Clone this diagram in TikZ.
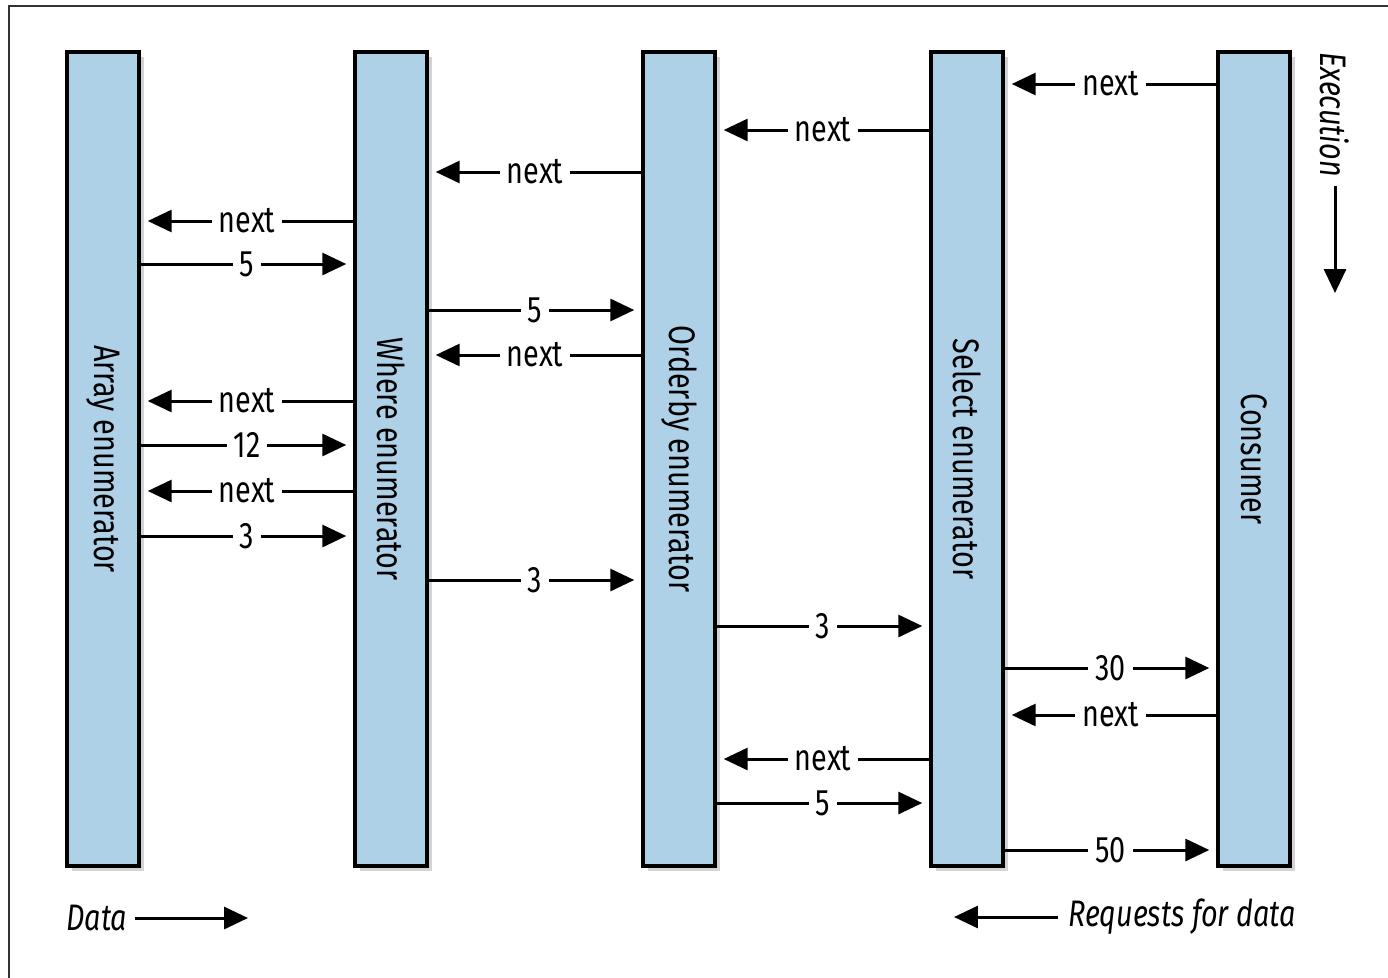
\documentclass[tikz,border=0pt]{standalone}
\usepackage{fontspec}
\setmainfont{Fira Sans}[FakeStretch=0.78]
\usepackage{graphicx}
\usetikzlibrary{arrows.meta,shadows}

\newdimen\pxu \pxu=0.02cm
\definecolor{barblue}{RGB}{174,209,232}

\tikzset{
  bar/.style={draw=black, fill=barblue, line width=3.5\pxu,
    minimum width=72\pxu, minimum height=814\pxu, inner sep=0pt,
    drop shadow={shadow xshift=5\pxu, shadow yshift=-5\pxu, opacity=0.35}},
  msg/.style={line width=3\pxu, -{Triangle[length=13.6pt, width=12.5pt]}, shorten >=7\pxu},
  lbl/.style={fill=white, inner xsep=7\pxu, inner ysep=0pt, midway},
  side/.style={line width=3\pxu, -{Triangle[length=13.6pt, width=12.5pt]}},
}

\begin{document}
\begin{tikzpicture}[x={(0.02cm,0)}, y={(0,-0.02cm)},
    every node/.style={font=\fontsize{21}{24}\selectfont}]
    \useasboundingbox (0,0) rectangle (1388,977);

    % frame
    \draw[line width=2\pxu, black!80] (1400,6) -- (9,6) -- (9,990);

    % enumerators
    \node[bar] (array)    at (103,459)  {\rotatebox{-90}{Array enumerator}};
    \node[bar] (where)    at (391,459)  {\rotatebox{-90}{Where enumerator}};
    \node[bar] (orderby)  at (679,459)  {\rotatebox{-90}{Orderby enumerator}};
    \node[bar] (select)   at (967,459)  {\rotatebox{-90}{Select enumerator}};
    \node[bar] (consumer) at (1254,459) {\rotatebox{-90}{Consumer}};

    % array <-> where
    \foreach \y in {221,401,491}
        \draw[msg] (where.west |- 0,\y) -- node[lbl] {next} (array.east |- 0,\y);
    \foreach \y/\v in {264/5,445/12,536/3}
        \draw[msg] (array.east |- 0,\y) -- node[lbl] {\v} (where.west |- 0,\y);

    % where <-> orderby
    \foreach \y in {172,355}
        \draw[msg] (orderby.west |- 0,\y) -- node[lbl] {next} (where.east |- 0,\y);
    \foreach \y/\v in {310/5,580/3}
        \draw[msg] (where.east |- 0,\y) -- node[lbl] {\v} (orderby.west |- 0,\y);

    % orderby <-> select
    \foreach \y in {130,759}
        \draw[msg] (select.west |- 0,\y) -- node[lbl] {next} (orderby.east |- 0,\y);
    \foreach \y/\v in {626/3,803/5}
        \draw[msg] (orderby.east |- 0,\y) -- node[lbl] {\v} (select.west |- 0,\y);

    % select <-> consumer
    \foreach \y in {84,715}
        \draw[msg] (consumer.west |- 0,\y) -- node[lbl] {next} (select.east |- 0,\y);
    \foreach \y/\v in {668/30,850/50}
        \draw[msg] (select.east |- 0,\y) -- node[lbl] {\v} (consumer.west |- 0,\y);

    % legend
    \node[rotate=-90, anchor=west, inner sep=0pt] (exec) at (1335,52) {\itshape Execution};
    \coordinate (execend) at (1335,293);
    \draw[side] ([yshift=-8\pxu]exec.east) -- (execend);

    \node[anchor=west, inner sep=0pt] (data) at (66,918) {\itshape Data};
    \coordinate (dataend) at (248,918);
    \draw[side] ([xshift=8\pxu]data.east) -- (dataend);

    \node[anchor=east, inner sep=0pt] (requests) at (1296,917) {\itshape Requests for data};
    \coordinate (requestsend) at (954,917);
    \draw[side] ([xshift=-10\pxu]requests.west) -- (requestsend);
\end{tikzpicture}
\end{document}
